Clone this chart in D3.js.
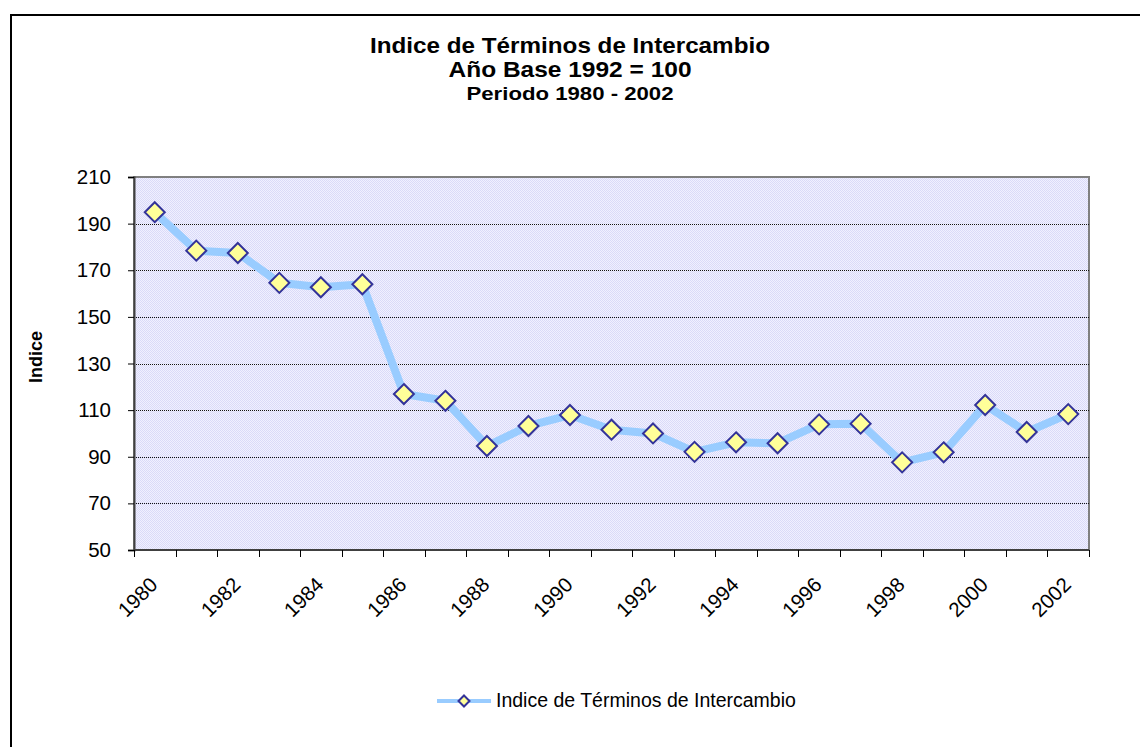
<!DOCTYPE html>
<html>
<head>
<meta charset="utf-8">
<script src="https://cdn.jsdelivr.net/npm/d3@7"></script>
<style>
html,body{margin:0;padding:0;background:#fff;}
svg{display:block;font-family:"Liberation Sans",Arial,sans-serif;}
</style>
</head>
<body>
<svg id="chart" width="1140" height="747"></svg>
<script>
const years = ["1980","1981","1982","1983","1984","1985","1986","1987","1988","1989","1990","1991","1992","1993","1994","1995","1996","1997","1998","1999","2000","2001","2002"];
const indice = [194.9,178.4,177.4,164.6,162.7,164.0,116.9,114.0,94.6,103.2,107.9,101.6,100.0,92.1,96.2,95.8,103.9,104.2,87.6,91.9,112.2,100.6,108.3];
const yTicks = [50,70,90,110,130,150,170,190,210];
const titleLines = ["Indice de Términos de Intercambio","Año Base 1992 = 100","Periodo 1980 - 2002"];
const seriesName = "Indice de Términos de Intercambio";
const yTitle = "Indice";

const svg = d3.select("#chart");
const plot = {left:134, top:177, right:1089, bottom:550};

// outer chart border (extends beyond the visible area)
svg.append("rect").attr("x",11).attr("y",15).attr("width",1160).attr("height",760)
  .attr("fill","#fff").attr("stroke","#000").attr("stroke-width",2);

// pattern fill for plot area
const defs = svg.append("defs");
const pat = defs.append("pattern").attr("id","chk").attr("width",2).attr("height",2).attr("patternUnits","userSpaceOnUse");
pat.append("rect").attr("width",2).attr("height",2).attr("fill","#F0F0FF");
pat.append("rect").attr("x",0).attr("y",0).attr("width",1).attr("height",1).attr("fill","#DADAF8");
pat.append("rect").attr("x",1).attr("y",1).attr("width",1).attr("height",1).attr("fill","#DADAF8");

const x = d3.scaleBand().domain(years).range([plot.left, plot.right]).padding(0);
const y = d3.scaleLinear().domain([50,210]).range([plot.bottom, plot.top]);

svg.append("rect").attr("x",plot.left).attr("y",plot.top)
  .attr("width",plot.right-plot.left).attr("height",plot.bottom-plot.top)
  .attr("fill","url(#chk)").attr("stroke","#808080").attr("stroke-width",2);

// gridlines
svg.append("g").selectAll("line").data(yTicks.filter(t=>t>50 && t<210)).join("line")
  .attr("x1",plot.left).attr("x2",plot.right)
  .attr("y1",d=>Math.round(y(d))+0.5).attr("y2",d=>Math.round(y(d))+0.5)
  .attr("stroke","#111").attr("stroke-width",1).attr("stroke-dasharray","1,1");

// y axis
const yAxis = d3.axisLeft(y).tickValues(yTicks).tickSize(6).tickPadding(17);
const gy = svg.append("g").attr("transform",`translate(${plot.left},0)`).call(yAxis);
gy.attr("font-size",null).attr("font-family",null);
gy.select(".domain").attr("stroke","#404040").attr("stroke-width",2);
gy.selectAll(".tick line").attr("stroke","#000").attr("stroke-width",1);
gy.selectAll("text").attr("font-size",20.5).attr("fill","#000");

// x axis: ticks at category boundaries
const gx = svg.append("g");
gx.append("line").attr("x1",plot.left).attr("x2",plot.right).attr("y1",plot.bottom).attr("y2",plot.bottom)
  .attr("stroke","#404040").attr("stroke-width",2);
const bounds = years.map(d=>x(d)).concat([plot.right]);
gx.selectAll("line.tk").data(bounds).join("line").attr("class","tk")
  .attr("x1",d=>Math.round(d)+0.5).attr("x2",d=>Math.round(d)+0.5)
  .attr("y1",plot.bottom).attr("y2",plot.bottom+7).attr("stroke","#000").attr("stroke-width",1);
gx.selectAll("text").data(years.filter((d,i)=>i%2===0)).join("text")
  .attr("transform",d=>`translate(${x(d)+x.bandwidth()/2+4},586) rotate(-45)`)
  .attr("text-anchor","end").attr("font-size",20.5).attr("fill","#000").text(d=>d);

// y title
svg.append("text").attr("transform",`translate(42,357) rotate(-90)`)
  .attr("text-anchor","middle").attr("font-size",18).attr("font-weight","bold").text(yTitle);

// title
const tl = svg.append("g");
const tSizes = [21.5,21.5,19], tBase = [53,77,100], tLen = [400,243,207];
titleLines.forEach((t,i)=>{
  tl.append("text").attr("x",570).attr("y",tBase[i]).attr("text-anchor","middle")
    .attr("font-size",tSizes[i]).attr("font-weight","bold")
    .attr("textLength",tLen[i]).attr("lengthAdjust","spacingAndGlyphs").text(t);
});

// series line
const line = d3.line().x((d,i)=>x(years[i])+x.bandwidth()/2).y(d=>y(d));
svg.append("path").datum(indice).attr("d",line).attr("fill","none")
  .attr("stroke","#99CCFF").attr("stroke-width",8).attr("stroke-linejoin","round");

// markers
const diamond = r => `M0,${-r}L${r},0L0,${r}L${-r},0Z`;
svg.append("g").selectAll("path").data(indice).join("path")
  .attr("transform",(d,i)=>`translate(${x(years[i])+x.bandwidth()/2},${y(d)})`)
  .attr("d",diamond(10)).attr("fill","#FFFF99").attr("stroke","#333399").attr("stroke-width",2);

// legend
const lg = svg.append("g");
lg.append("line").attr("x1",437).attr("x2",491).attr("y1",701).attr("y2",701).attr("stroke","#99CCFF").attr("stroke-width",4);
lg.append("path").attr("transform","translate(464,701)").attr("d",diamond(5.5))
  .attr("fill","#FFFF99").attr("stroke","#333399").attr("stroke-width",2);
lg.append("text").attr("x",496).attr("y",707).attr("font-size",19.5).text(seriesName);
</script>
</body>
</html>
